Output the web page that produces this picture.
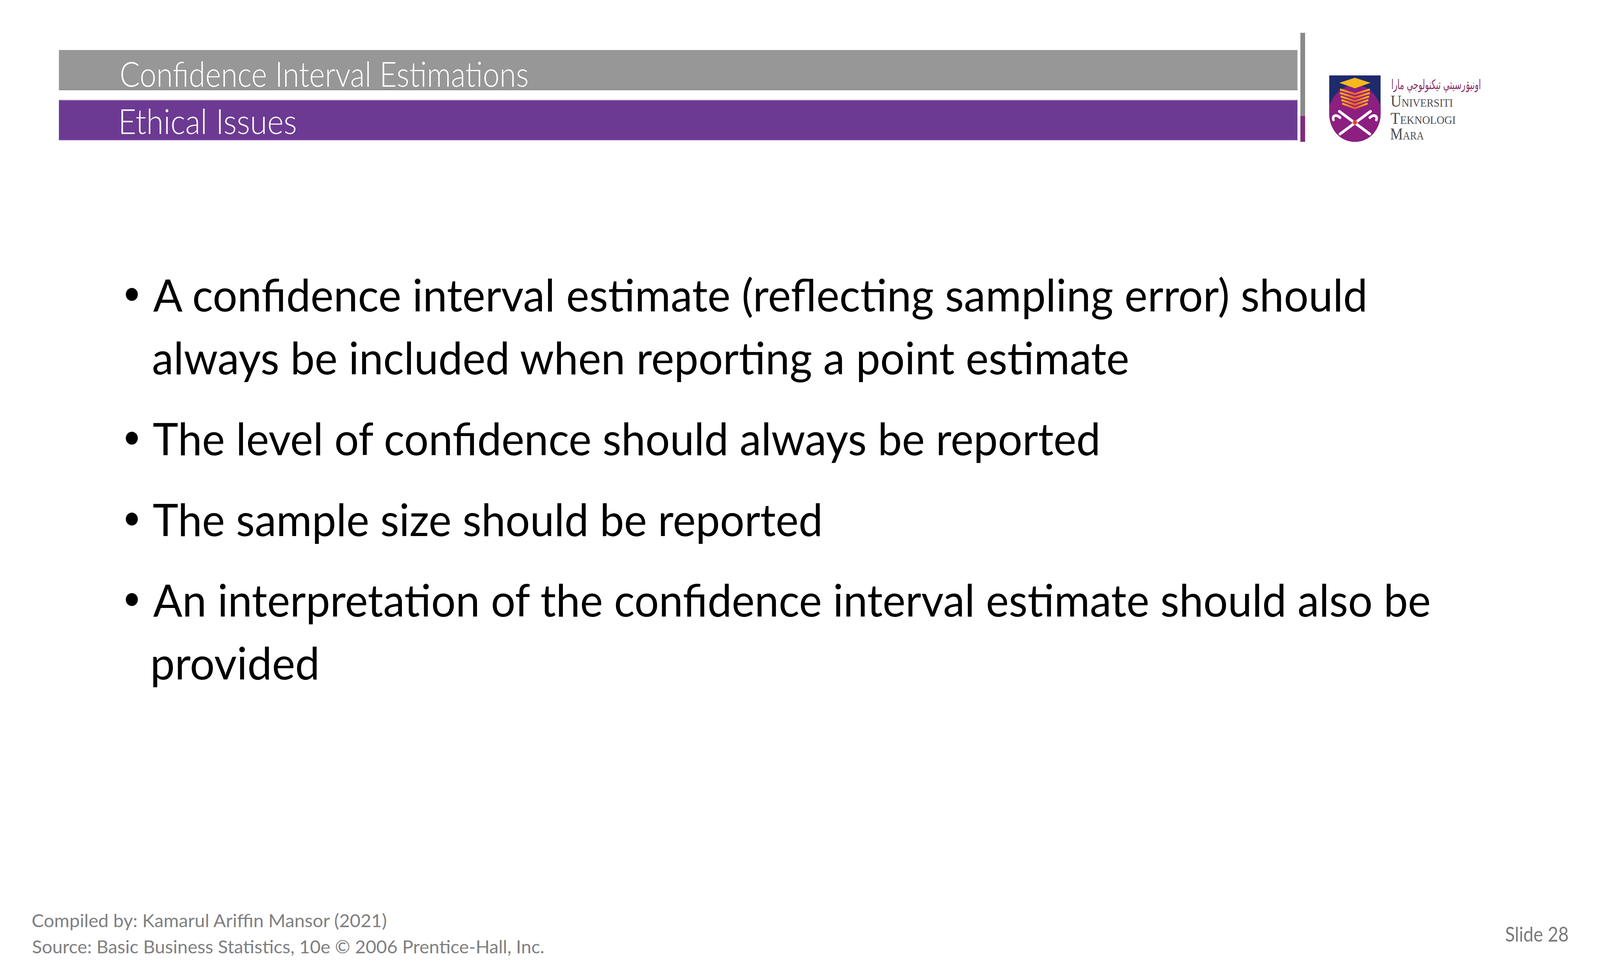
<!DOCTYPE html>
<html>
<head>
<meta charset="utf-8">
<title>Ethical Issues</title>
<script src="https://cdn.jsdelivr.net/npm/chart.js@4.4.1/dist/chart.umd.min.js"></script>
<style>
  html, body { margin: 0; padding: 0; background: #fff; overflow: hidden; }
  body { width: 100vw; height: 100vh; }
  #slide { position: absolute; left: 0; top: 0; width: 4400px; height: 2475px; transform-origin: 0 0; background: #fff; }
  .abs { position: absolute; white-space: nowrap; transform-origin: 0 0; }
  .band { position: absolute; }
  .dot { position: absolute; border-radius: 50%; background: #000; }
</style>
</head>
<body>
<div id="slide">

<!-- header bands -->
<div class="band" style="left:162px;top:128px;width:3406px;height:103px;background:#979797;border-bottom:3px solid #8d8d8d;box-sizing:border-box;"></div>
<div class="band" style="left:162px;top:255px;width:3406px;height:104px;background:#6d3a93;border-top:2px solid #b9b3c0;border-bottom:3px solid #7d45ab;box-sizing:border-box;"></div>
<div class="band" style="left:3576px;top:84px;width:13px;height:213px;background:#8a8a8a;"></div>
<div class="band" style="left:3576px;top:297px;width:13px;height:66px;background:#842a7c;"></div>

<!-- UiTM crest -->
<svg class="band" style="left:3655px;top:193px;" width="142" height="170" viewBox="0 0 142 170">
  <defs>
    <clipPath id="shield"><path d="M0,0 H142 V95 C142,140 110,170 71,170 C32,170 0,140 0,95 Z"/></clipPath>
    <linearGradient id="chev" x1="0" y1="0" x2="0" y2="1">
      <stop offset="0" stop-color="#f6b51f"/>
      <stop offset="1" stop-color="#ee5a2a"/>
    </linearGradient>
  </defs>
  <g clip-path="url(#shield)">
    <rect x="0" y="0" width="142" height="170" fill="#1f2a6c"/>
    <ellipse cx="71" cy="112" rx="76" ry="88" fill="#8c1f80"/>
  </g>
  <polygon points="71,6 114,19 71,33 28,19" fill="#f6b91d"/>
  <g fill="none" stroke="url(#chev)" stroke-width="5">
    <polyline points="30,36 71,48 112,36"/>
    <polyline points="30,45 71,57 112,45"/>
    <polyline points="32,54 71,66 110,54"/>
    <polyline points="34,63 71,75 108,63"/>
    <polyline points="36,72 71,84 106,72"/>
  </g>
  <g fill="none" stroke="#ffffff" stroke-width="7" stroke-linecap="round">
    <line x1="28" y1="92" x2="112" y2="150"/>
    <line x1="114" y1="92" x2="30" y2="150"/>
    <path d="M30,108 C18,98 8,104 12,114"/>
    <path d="M112,108 C124,98 134,104 130,114"/>
  </g>
  <circle cx="71" cy="120" r="6" fill="#e04a2a"/>
</svg>

</div>

<script>
// slide text
const sectionTitle = 'Confidence Interval Estimations';
const slideTitle = 'Ethical Issues';
const bulletLines = [
  ['A confidence interval estimate (reflecting sampling error) should',
   'always be included when reporting a point estimate'],
  ['The level of confidence should always be reported'],
  ['The sample size should be reported'],
  ['An interpretation of the confidence interval estimate should also be',
   'provided']
];
const logoJawi = 'اونيۏرسيتي تيكنولوجي مارا';
const logoWords = ['Universiti', 'Teknologi', 'Mara'];
const footerLines = [
  'Compiled by: Kamarul Ariffin Mansor (2021)',
  'Source: Basic Business Statistics, 10e \u00a9 2006 Prentice-Hall, Inc.'
];
const slideLabel = 'Slide 28';

// layout (baselines and ink right edges measured off the slide)
const bulletBaselines = [[797, 958], [1165], [1372], [1578, 1739]];
const bulletRights = [[3757, 3104], [3021], [2255], [3933, 871]];
const logoRights = [4058, 4071, 3942];
const logoBaselines = [273, 317, 357];

const slide = document.getElementById('slide');
const ctx = document.createElement('canvas').getContext('2d');

// the window comes out 4096 wide, so stretch the 4400x2475 slide over it
function fitSlide() {
  const sx = window.innerWidth / 4400, sy = window.innerHeight / 2475;
  slide.style.transform = 'scale(' + sx + ',' + sy + ')';
}
fitSlide();
window.addEventListener('resize', fitSlide);

// put a line of text so that its ink starts at x, sits on baseline,
// and (optionally) its ink ends at right
function placeText(text, o) {
  const font = (o.variant || '') + ' ' + (o.weight || 400) + ' ' + o.size + 'px ' + o.family;
  ctx.font = font;
  const m = ctx.measureText(o.measure || text);
  const asc = m.fontBoundingBoxAscent, desc = m.fontBoundingBoxDescent;
  const lh = o.lh || (asc + desc);
  const inkLeft = -m.actualBoundingBoxLeft;
  const inkW = m.actualBoundingBoxRight + m.actualBoundingBoxLeft;
  const sx = o.right ? (o.right - o.x) / inkW : 1;
  const el = document.createElement('div');
  el.className = 'abs';
  el.textContent = text;
  el.style.font = font;
  el.style.color = o.color;
  el.style.lineHeight = lh + 'px';
  el.style.height = lh + 'px';
  el.style.top = (o.baseline - lh / 2 - (asc - desc) / 2) + 'px';
  el.style.left = (o.x - inkLeft * sx) + 'px';
  el.style.transform = 'scaleX(' + sx + ')';
  slide.appendChild(el);
  return el;
}

// header band titles
placeText(sectionTitle, { x: 334, baseline: 222, right: 1451, size: 89, weight: 300, family: 'Lato', color: '#ffffff' });
placeText(slideTitle, { x: 334, baseline: 343, right: 813, size: 89, weight: 300, family: 'Lato', color: '#ffffff' });

// bullets
bulletLines.forEach((lines, i) => {
  const dot = document.createElement('div');
  dot.className = 'dot';
  dot.style.width = dot.style.height = '33px';
  dot.style.left = (362 - 16.5) + 'px';
  dot.style.top = (bulletBaselines[i][0] - 44 - 16.5) + 'px';
  slide.appendChild(dot);
  lines.forEach((line, j) => {
    placeText(line, { x: 421, baseline: bulletBaselines[i][j], right: bulletRights[i][j], size: 115, family: 'Lato', color: '#000000' });
  });
});

// logo wordmark
placeText(logoJawi, { x: 3828, baseline: 228, right: 4071, size: 34, lh: 34, family: '"DejaVu Sans"', color: '#8a3264' });
logoWords.forEach((w, i) => {
  placeText(w, { x: 3824, baseline: logoBaselines[i], right: logoRights[i], size: 42, lh: 34,
    variant: 'small-caps', family: '"Liberation Serif"', color: '#4d4d4d',
    measure: w[0] + w.slice(1).toUpperCase() });
});

// footer
placeText(footerLines[0], { x: 89, baseline: 2373, right: 1065, size: 46, lh: 56, family: 'Lato', color: '#808080' });
placeText(footerLines[1], { x: 89, baseline: 2440, right: 1495, size: 46, lh: 56, family: 'Lato', color: '#808080' });
placeText(slideLabel, { x: 4140, baseline: 2410, right: 4312, size: 52, lh: 60, family: 'Lato', color: '#7a7a7a' });
</script>
</body>
</html>
